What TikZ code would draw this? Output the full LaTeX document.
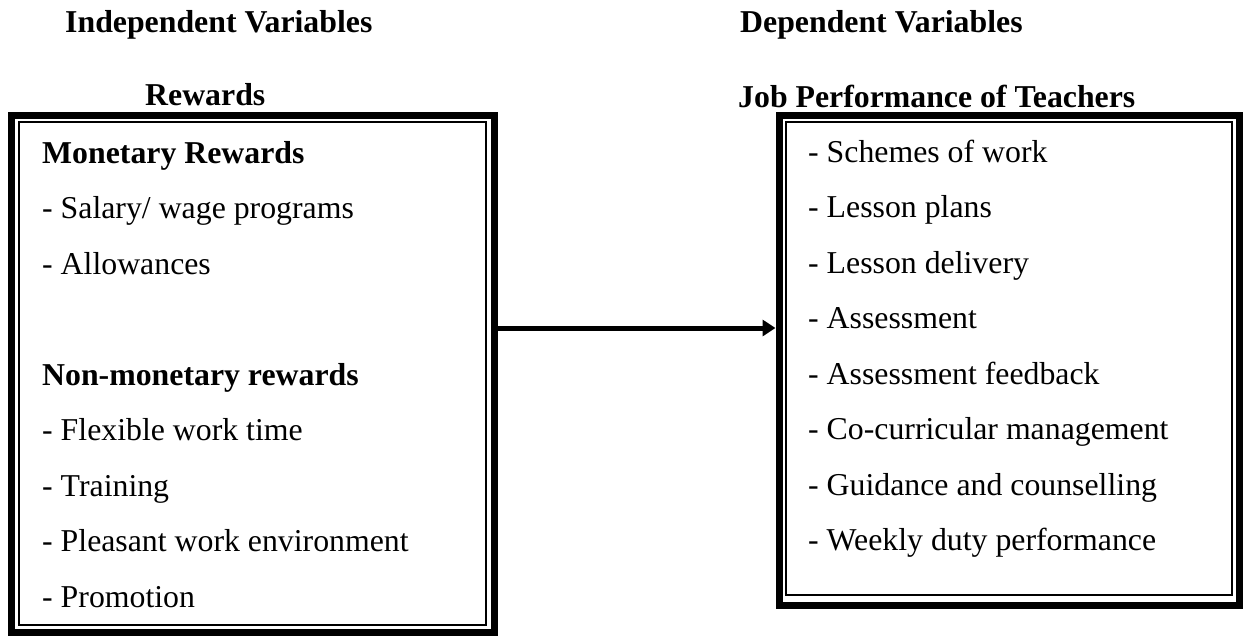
\documentclass[tikz,border=0pt]{standalone}
\usepackage{fontspec}
\setmainfont{Liberation Serif}
\usetikzlibrary{arrows.meta}
\newcommand\diagfont{\fontsize{31.8pt}{38pt}\selectfont}
\tikzset{
  outerframe/.style={draw, line width=7pt, rectangle, inner sep=0pt},
  innerframe/.style={draw, line width=1.6pt, rectangle, inner sep=0pt},
  label/.style={anchor=base west, inner sep=0pt, font=\diagfont},
  heading/.style={label, font=\diagfont\bfseries},
  link/.style={line width=5pt, -{Triangle[length=13pt,width=16pt]}}
}
\begin{document}
\begin{tikzpicture}[x=1pt, y=-1pt]
\useasboundingbox (0,0) rectangle (1243,635);

% headings
\node[heading] (indep) at (65,32) {Independent Variables};
\node[heading] (rew)   at (145,105) {Rewards};
\node[heading] (dep)   at (740,32) {Dependent Variables};
\node[heading] (job)   at (738,107) {Job Performance of Teachers};

% left box: thick outer frame with thin inner frame
\node[outerframe, minimum width=482.3pt, minimum height=517pt] (L) at (252.85,373.5) {};
\node[innerframe, minimum width=467pt, minimum height=503pt] (Lin) at (252.5,373.5) {};

% right box
\node[outerframe, minimum width=460pt, minimum height=490pt] (R) at (1009,360) {};
\node[innerframe, minimum width=446pt, minimum height=473pt] (Rin) at (1009,358.5) {};

% left box contents
\node[heading] (m0) at (42,163) {Monetary Rewards};
\node[label] (m1) at (42,218.5) {- Salary/ wage programs};
\node[label] (m2) at (42,274) {- Allowances};
\node[heading] (n0) at (42,385) {Non-monetary rewards};
\node[label] (n1) at (42,440.5) {- Flexible work time};
\node[label] (n2) at (42,496) {- Training};
\node[label] (n3) at (42,551.5) {- Pleasant work environment};
\node[label] (n4) at (42,607) {- Promotion};

% right box contents
\node[label] (j1) at (808,162) {- Schemes of work};
\node[label] (j2) at (808,217.5) {- Lesson plans};
\node[label] (j3) at (808,273) {- Lesson delivery};
\node[label] (j4) at (808,328.5) {- Assessment};
\node[label] (j5) at (808,384) {- Assessment feedback};
\node[label] (j6) at (808,439.5) {- Co-curricular management};
\node[label] (j7) at (808,495) {- Guidance and counselling};
\node[label] (j8) at (808,550.5) {- Weekly duty performance};

% connector between the two boxes
\coordinate (ay) at (0,328);
\draw[link] (L.east |- ay) -- (R.west |- ay);
\end{tikzpicture}
\end{document}
